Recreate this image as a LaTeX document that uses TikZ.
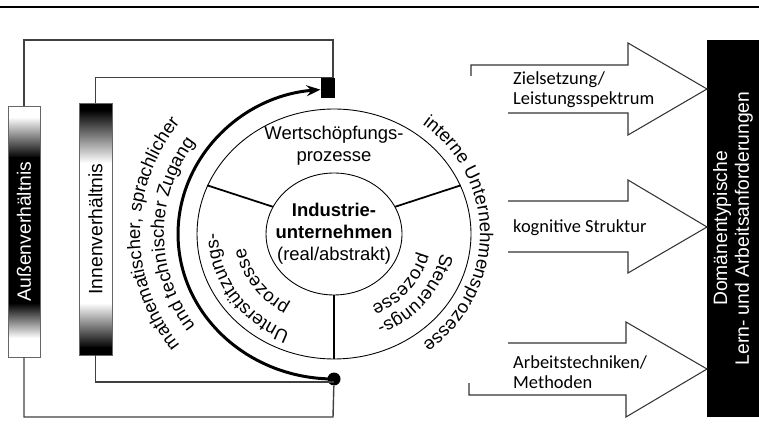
\documentclass[tikz,border=0pt]{standalone}
\usepackage{fontspec}
\setmainfont{Liberation Sans}
\newfontfamily\calibri{Carlito}
\usetikzlibrary{positioning,calc,shapes.geometric,decorations.text,arrows.meta}

\begin{document}
\begin{tikzpicture}[x=0.02cm, y=-0.02cm,
  every node/.style={font=\fontsize{10.5}{12.5}\selectfont},
  frame/.style={draw=black!75, line width=0.8pt},
  bar/.style={draw=black!60, line width=0.5pt, rotate=90, inner sep=0pt, font=\fontsize{11}{13}\selectfont},
  ring/.style={draw, ellipse, inner sep=0pt, line width=0.5pt},
  spoke/.style={line width=1pt},
  bigarrow/.style={draw=black!80, line width=0.6pt},
  tag/.style={font=\calibri\fontsize{10.5}{11.4}\selectfont, anchor=west, align=left},
  curved/.style={decorate, decoration={text along path, text align=center,
      text={|\fontsize{10.5}{12.5}\selectfont|#1}}}]
  \useasboundingbox (0,0) rectangle (759,445);
  \draw[line width=1pt] (0,7) -- (759,7);
  \coordinate (c) at (334,234);

  % shading of the two bars
  \fill[white] (8,106) rectangle (40,357);
  \shade[top color=white, bottom color=black] (8,117) rectangle (40,158);
  \fill[black] (8,157) rectangle (40,304);
  \shade[top color=black, bottom color=white] (8,303) rectangle (40,338);
  \fill[black] (79,103) rectangle (112,111);
  \shade[top color=black, bottom color=white] (79,110) rectangle (112,163);
  \shade[top color=white, bottom color=black] (79,303) rectangle (112,348);
  \fill[black] (79,347) rectangle (112,355);

  \node[bar, text=white, minimum width=5.02cm, minimum height=0.64cm] (aussen) at (24,231.5) {Außenverhältnis};
  \node[bar, minimum width=5.04cm, minimum height=0.66cm] (innen) at (95.5,229) {Innenverhältnis};

  \node[fill=black, minimum width=0.28cm, minimum height=0.4cm, inner sep=0pt] (sq) at (328,88) {};
  \node[circle, fill=black, minimum size=0.26cm, inner sep=0pt] (dot) at (334,379) {};
  \coordinate (otop) at (333,40);
  \coordinate (obot) at (333,417);

  \draw[frame] (aussen.east) |- (otop) -- (otop |- sq.north);
  \draw[frame] (innen.east) |- (otop |- sq.north);
  \draw[frame] (aussen.west) |- (obot) -- (dot);
  \draw[frame] (innen.west) |- ([yshift=-1.7pt]dot.center);

  \draw[line width=1.7pt, -{Stealth[length=2.8mm, width=2.2mm, inset=1mm]}] (dot.center)
    arc[start angle=270, end angle=95, x radius=3.12cm, y radius=2.9cm];

  % company circles
  \node[ring, minimum width=5.48cm, minimum height=5cm] (outer) at (c) {};
  \node[ring, minimum width=2.72cm, minimum height=2.44cm] (core) at (c) {};
  \draw[spoke] (core.156) -- (outer.159);
  \draw[spoke] (core.24) -- (outer.21);
  \draw[spoke] (core.south) -- (outer.south);

  \node[align=center] (wert) at (334,146) {Wertschöpfungs-\\prozesse};
  \node[align=center] (firm) at (c) {\textbf{Industrie-}\\\textbf{unternehmen}\\(real/abstrakt)};

  \path[curved={Unterstützungs-}] ($(c)+(263:2.32cm and 2.12cm)$) arc[start angle=263, end angle=163, x radius=2.32cm, y radius=2.12cm];
  \path[curved={prozesse}] ($(c)+(264:1.8cm and 1.63cm)$) arc[start angle=264, end angle=164, x radius=1.8cm, y radius=1.63cm];
  \path[curved={Steuerungs-}] ($(c)+(12:2.18cm and 1.98cm)$) arc[start angle=12, end angle=-88, x radius=2.18cm, y radius=1.98cm];
  \path[curved={prozesse}] ($(c)+(12:1.76cm and 1.6cm)$) arc[start angle=12, end angle=-88, x radius=1.76cm, y radius=1.6cm];
  \path[curved={interne Unternehmensprozesse}] ($(c)+(75:2.92cm and 2.76cm)$) arc[start angle=75, end angle=-75, x radius=2.92cm, y radius=2.76cm];
  \path[curved={mathematischer, sprachlicher}] ($(c)+(250:3.88cm and 3.66cm)$) arc[start angle=250, end angle=110, x radius=3.88cm, y radius=3.66cm];
  \path[curved={und technischer Zugang}] ($(c)+(250:3.4cm and 3.18cm)$) arc[start angle=250, end angle=110, x radius=3.4cm, y radius=3.18cm];

  % requirements
  \node[fill=black, rotate=90, minimum width=7.54cm, minimum height=1.04cm, inner sep=0pt, text=white, align=center,
    font=\fontsize{11}{12.5}\selectfont] (dom) at (733,228.5) {Domänentypische\\Lern- und Arbeitsanforderungen};

  \node[tag] (ziel) at (507,90) {Zielsetzung/\\Leistungsspektrum};
  \node[tag] (kog) at (507,228) {kognitive Struktur};
  \node[tag] (arb) at (507,372) {Arbeitstechniken/\\Methoden};

  \draw[bigarrow] (471,76) -- (471,65) -- (628,65) -- (628,43) -- (707,89) -- (628,135) -- (628,113) -- (508,113);
  \draw[bigarrow] (508,201) -- (628,201) -- (628,180) -- (707,227) -- (628,273) -- (628,252) -- (508,252);
  \draw[bigarrow] (508,343) -- (626,343) -- (626,322) -- (707,369) -- (626,417) -- (626,395) -- (469,395) -- (469,383);
\end{tikzpicture}
\end{document}
